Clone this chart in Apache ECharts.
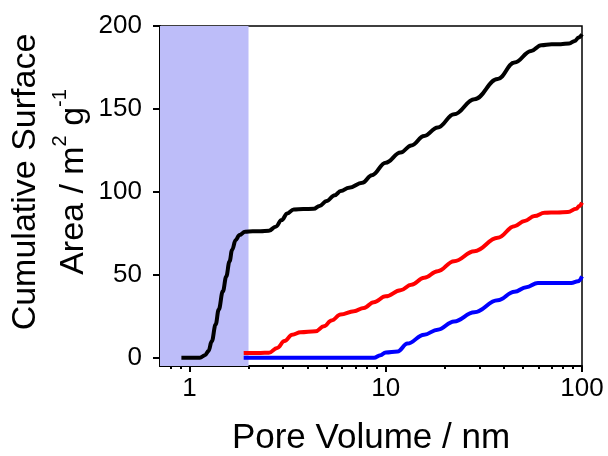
<!DOCTYPE html>
<html>
<head>
<meta charset="utf-8">
<script src="https://cdn.jsdelivr.net/npm/echarts@6/dist/echarts.min.js"></script>
<style>
  html, body { margin: 0; padding: 0; background: #fff; }
  #chart { width: 608px; height: 456px; }
</style>
</head>
<body>
<div id="chart"></div>
<script>
// pore width (nm) / cumulative surface area (m2/g)
const blackX = [0.91, 1.13, 1.2, 1.25, 1.3, 1.36, 1.41, 1.48, 1.54, 1.6, 1.65, 1.72, 1.8, 1.92, 2.1, 2.3, 2.54, 2.75, 2.95, 3.15, 3.4, 3.8, 4.3, 4.6, 5.0, 5.5, 5.9, 6.5, 7.6, 8.5, 10, 11.9, 13.5, 15.7, 18.4, 22.3, 28.3, 37.2, 45.3, 55.1, 62, 70, 78, 86, 92, 96, 100]
const blackY = [0, 0, 1.5, 4, 10, 20, 29, 40, 49, 58, 65, 71, 74, 76, 76.2, 76.3, 76.5, 79, 83, 87, 89.4, 89.6, 89.8, 91.5, 94.5, 98, 100.5, 102.5, 105.5, 110, 117.6, 123.7, 128, 133.7, 138.8, 146.8, 155.9, 168, 178, 185, 188.4, 189, 189, 189.5, 191, 193, 195]

const redX = [1.89, 2.3, 2.54, 2.8, 3.05, 3.34, 3.68, 4.39, 4.84, 5.3, 5.89, 6.89, 7.74, 8.7, 10, 11.9, 13.5, 15.7, 18.4, 22.3, 28.3, 37.2, 45.3, 51, 57.3, 64.4, 75, 84.8, 93.5, 97, 100]
const redY = [2.8, 2.9, 3, 5.9, 10, 13.9, 15.3, 15.9, 18.9, 22.5, 26, 28, 30, 33.5, 37, 40.7, 44, 48.2, 52.2, 58.2, 64.2, 72.3, 79.3, 82.5, 85.4, 87.4, 87.6, 87.8, 89.8, 91.5, 93.5]

const blueX = [1.89, 5, 8.72, 9.4, 10, 11.5, 12.9, 15.7, 18.4, 22.3, 28.3, 37.2, 45.3, 52, 59.6, 75, 88.2, 95.4, 100]
const blueY = [0, 0, 0, 1.5, 3.2, 3.8, 8.5, 13.9, 16.9, 21.9, 27.4, 34.6, 39.7, 42.5, 45.1, 45.1, 45.1, 46.1, 49.1]

const xTicks = [1, 10, 100]
const xMinorTicks = [0.8, 0.9, 2, 3, 4, 5, 6, 7, 8, 9, 20, 30, 40, 50, 60, 70, 80, 90]
const yTicks = [0, 50, 100, 150, 200]

const xMin = 0.708
const xMax = 100
const microLimit = 2 // shaded micropore region ends at 2 nm

const font = 'Liberation Sans, Arial, sans-serif'

const toPairs = (xs, ys) => xs.map((x, i) => [x, ys[i]])

const lineSeries = (name, xs, ys, color, z) => ({
  name: name,
  type: 'line',
  data: toPairs(xs, ys),
  smooth: 0.4,
  smoothMonotone: 'x',
  showSymbol: false,
  z: z,
  lineStyle: { color: color, width: 4 },
  itemStyle: { color: color }
})

const chart = echarts.init(document.getElementById('chart'))

const blackSeries = lineSeries('black', blackX, blackY, '#000000', 3)
blackSeries.markArea = {
  silent: true,
  itemStyle: { color: '#bdbdf9', opacity: 1 },
  data: [[{ xAxis: xMin }, { xAxis: microLimit }]]
}

const option = {
  animation: false,
  grid: {
    left: 160,
    right: 26,
    top: 26,
    bottom: 90,
    outerBoundsMode: 'none', // keep the plot box where it is, names sit outside
    show: true,
    borderColor: '#000',
    borderWidth: 1.5
  },
  xAxis: [
    {
      type: 'log',
      min: xMin,
      max: xMax,
      position: 'bottom',
      name: 'Pore Volume / nm',
      nameLocation: 'middle',
      nameGap: 55,
      nameTextStyle: { fontFamily: font, fontSize: 35, color: '#000' },
      axisLine: { onZero: false, lineStyle: { color: '#000', width: 2 } },
      axisTick: { customValues: xTicks, length: 6, lineStyle: { color: '#000', width: 2 } },
      axisLabel: { customValues: xTicks, margin: 10, fontFamily: font, fontSize: 26, color: '#000' },
      splitLine: { show: false }
    },
    {
      // second axis only carries the minor ticks
      type: 'log',
      min: xMin,
      max: xMax,
      position: 'bottom',
      axisLine: { show: false, onZero: false },
      axisTick: { customValues: xMinorTicks, length: 3, lineStyle: { color: '#000', width: 2 } },
      axisLabel: { show: false },
      splitLine: { show: false }
    }
  ],
  yAxis: {
    type: 'value',
    min: -5,
    max: 200,
    axisLine: { show: true, onZero: false, lineStyle: { color: '#000', width: 2 } },
    axisTick: { show: true, customValues: yTicks, length: 7, lineStyle: { color: '#000', width: 2 } },
    axisLabel: { customValues: yTicks, margin: 18, fontFamily: font, fontSize: 26, color: '#000' },
    splitLine: { show: false }
  },
  graphic: [
    {
      type: 'text',
      x: 50,
      y: 182,
      rotation: Math.PI / 2,
      style: {
        text: '{t|Cumulative Surface}\n{t|Area / m}{s|2}{t| g}{s|-1}',
        align: 'center',
        verticalAlign: 'middle',
        fill: '#000',
        rich: {
          t: { fontFamily: font, fontSize: 34, lineHeight: 48, fill: '#000' },
          s: { fontFamily: font, fontSize: 20, verticalAlign: 'top', fill: '#000' }
        }
      }
    }
  ],
  series: [
    blackSeries,
    lineSeries('red', redX, redY, '#ff0000', 4),
    lineSeries('blue', blueX, blueY, '#0000ff', 5)
  ]
}

chart.setOption(option)
</script>
</body>
</html>
